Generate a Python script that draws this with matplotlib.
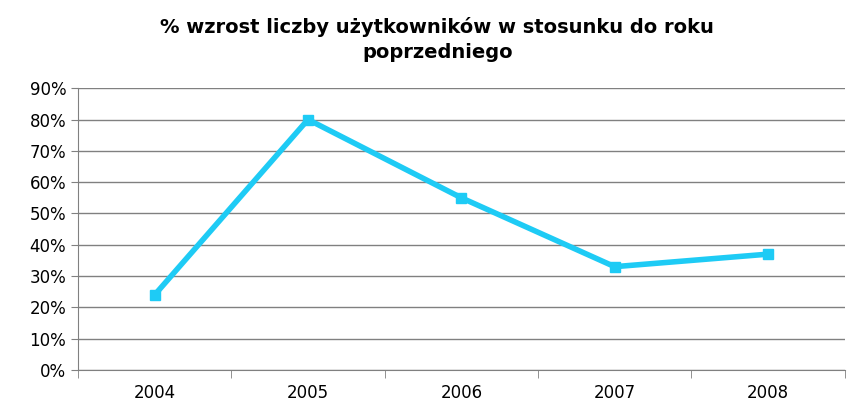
import matplotlib
matplotlib.use("Agg")
import matplotlib.pyplot as plt

years = ["2004", "2005", "2006", "2007", "2008"]
growth = [24, 80, 55, 33, 37]
yticks = list(range(0, 91, 10))
title = "% wzrost liczby użytkowników w stosunku do roku\npoprzedniego"

fig = plt.figure(figsize=(8.61, 4.18), dpi=100)
ax = fig.add_axes([0.0906, 0.1148, 0.8904, 0.6742])
x = list(range(len(years)))
ax.plot(x, growth, color="#1ECBF5", lw=4, marker="s", ms=7, zorder=3)
ax.set_xlim(-0.5, len(years) - 0.5)
ax.set_ylim(0, 90)
ax.set_yticks(yticks)
ax.set_yticklabels([f"{v}%" for v in yticks], fontsize=12)
ax.set_xticks(x)
ax.set_xticklabels(years, fontsize=12)
ax.set_xticks([i + 0.5 for i in range(-1, len(years))], minor=True)
ax.tick_params(axis="x", which="major", length=0, pad=10)
ax.tick_params(axis="x", which="minor", length=6, color="#808080")
ax.tick_params(axis="y", length=5, color="#808080")
ax.grid(axis="y", color="#808080", lw=1)
ax.set_axisbelow(True)
for s in ["top", "right"]:
    ax.spines[s].set_visible(False)
for s in ["left", "bottom"]:
    ax.spines[s].set_color("#808080")
fig.text(0.508, 0.96, title, ha="center", va="top", fontsize=14,
         fontweight="bold", linespacing=1.45)
fig.savefig("out.png", dpi=100)
